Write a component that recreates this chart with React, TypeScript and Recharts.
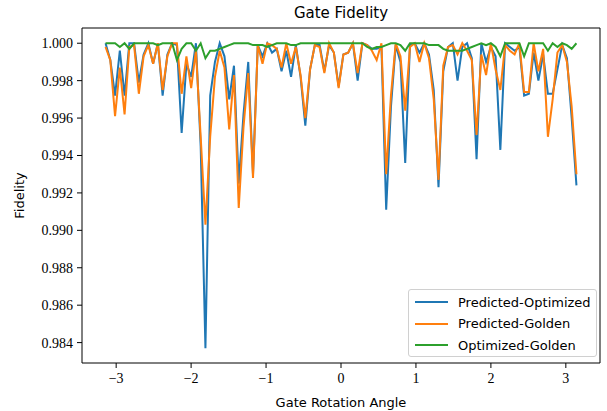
import { LineChart, Line, XAxis, YAxis, ReferenceArea, Label } from "recharts";

// sampling grid: 100 angles from -pi to pi
const N = 100;
const ANGLES = Array.from({ length: N }, (_, i) => -Math.PI + (2 * Math.PI * i) / (N - 1));

const PRED_OPT = [
  1.0, 0.9991, 0.9972, 0.9996, 0.9972, 1.0, 1.0, 0.9979, 0.9994, 1.0,
  0.9989, 1.0, 0.9972, 0.9994, 1.0, 0.9999, 0.9952, 0.9989, 0.9982, 1.0,
  0.9945, 0.9837, 0.9972, 0.999, 1.0, 0.9993, 0.997, 0.9988, 0.9925, 0.9962,
  0.999, 0.993, 0.9999, 0.9993, 1.0, 0.9995, 0.9997, 0.9985, 0.9996, 0.9982,
  0.9999, 0.9982, 0.9956, 0.9986, 0.9999, 0.9999, 0.9985, 0.9999, 0.9995, 0.9977,
  0.9994, 0.9995, 1.0, 0.998, 1.0, 0.9999, 0.9997, 0.9997, 0.9998, 0.9911,
  0.9966, 0.9999, 0.999, 0.9936, 0.9999, 1.0, 0.9995, 1.0, 0.9994, 0.9975,
  0.9923, 0.9985, 0.9998, 1.0, 0.998, 0.9998, 1.0, 0.9992, 0.9938, 1.0,
  0.999, 0.9998, 0.9993, 0.9943, 1.0, 0.9998, 0.9996, 0.9998, 0.9972, 0.9973,
  0.9995, 0.998, 0.9994, 0.9973, 0.9973, 0.9986, 0.9999, 0.9992, 0.996, 0.9924,
];

const PRED_GOLD = [
  0.9998, 0.9991, 0.9961, 0.9987, 0.9962, 0.9998, 0.9999, 0.9973, 0.9993, 0.9999,
  0.9989, 1.0, 0.9975, 0.9993, 1.0, 1.0, 0.9973, 0.9993, 0.9976, 0.9996,
  0.995, 0.9903, 0.995, 0.9982, 0.9996, 0.9987, 0.9954, 0.9983, 0.9912, 0.9955,
  0.9984, 0.9928, 0.9999, 0.9989, 1.0, 0.9999, 0.9997, 0.9987, 1.0, 0.9989,
  0.9998, 0.9983, 0.996, 0.9986, 0.9999, 0.9998, 0.9984, 1.0, 0.9995, 0.9976,
  0.9994, 0.9995, 1.0, 0.9984, 1.0, 0.9999, 0.9996, 0.9991, 1.0, 0.993,
  0.9972, 1.0, 0.9993, 0.9964, 0.9998, 1.0, 0.999, 1.0, 0.9992, 0.997,
  0.9927, 0.9988, 0.9998, 0.9999, 0.9994, 1.0, 0.9996, 0.9991, 0.9951, 0.9994,
  0.9983, 1.0, 0.9986, 0.9975, 0.9999, 0.9996, 0.9994, 1.0, 0.9974, 0.9974,
  1.0, 0.9985, 0.9997, 0.995, 0.997, 0.9995, 0.9999, 0.999, 0.9966, 0.993,
];

const OPT_GOLD = [
  1.0, 1.0, 1.0, 0.9998, 1.0, 0.9997, 1.0, 1.0, 1.0, 1.0,
  1.0, 0.9999, 1.0, 1.0, 1.0, 0.9991, 0.9997, 1.0, 1.0, 0.9996,
  1.0, 0.9992, 0.9996, 0.9996, 0.9997, 0.9998, 0.9999, 1.0, 1.0, 1.0,
  1.0, 0.9999, 0.9999, 0.9999, 0.9998, 0.9999, 1.0, 1.0, 1.0, 0.9999,
  0.9999, 1.0, 1.0, 1.0, 1.0, 1.0, 1.0, 1.0, 1.0, 1.0,
  1.0, 1.0, 1.0, 1.0, 1.0, 0.9998, 0.9997, 0.9998, 0.9998, 0.9999,
  1.0, 1.0, 0.9999, 0.9996, 1.0, 1.0, 1.0, 1.0, 0.9999, 0.9999,
  0.9999, 0.9997, 0.9996, 0.9996, 0.9996, 0.9996, 0.9997, 0.9998, 0.9999, 1.0,
  0.9999, 1.0, 0.9998, 0.9993, 1.0, 1.0, 1.0, 1.0, 0.9993, 1.0,
  1.0, 1.0, 1.0, 0.9996, 1.0, 0.9998, 1.0, 0.9999, 0.9997, 1.0,
];

const SERIES = [
  { key: "po", name: "Predicted-Optimized", color: "#1f77b4", values: PRED_OPT },
  { key: "pg", name: "Predicted-Golden", color: "#ff7f0e", values: PRED_GOLD },
  { key: "og", name: "Optimized-Golden", color: "#2ca02c", values: OPT_GOLD },
];

const X_TICKS = [-3, -2, -1, 0, 1, 2, 3];
const Y_TICKS = [0.984, 0.986, 0.988, 0.99, 0.992, 0.994, 0.996, 0.998, 1.0];
const X_DOMAIN: [number, number] = [-3.4558, 3.4558];
const Y_DOMAIN: [number, number] = [0.98291, 1.000814];

const data = ANGLES.map((x, i) => {
  const row: Record<string, number> = { x };
  SERIES.forEach((s) => (row[s.key] = s.values[i]));
  return row;
});

const serif = "'Liberation Serif', serif";
const sans = "'DejaVu Sans', sans-serif";

const XTick = ({ x, y, payload }: any) => {
  const v = payload.value as number;
  return (
    <text x={x} y={y + 13} textAnchor="middle" style={{ fontFamily: serif, fontSize: 14, fill: "#000" }}>
      {v < 0 ? "\u2212" + Math.abs(v) : String(v)}
    </text>
  );
};

const YTick = ({ x, y, payload }: any) => (
  <text x={x - 2} y={y + 5} textAnchor="end" style={{ fontFamily: serif, fontSize: 14, fill: "#000" }}>
    {(payload.value as number).toFixed(3)}
  </text>
);

export default function App() {
  return (
    <div style={{ position: "fixed", left: 0, top: 0, width: 607, height: 411, background: "#fff" }}>
      <div
        style={{
          position: "absolute",
          left: 82,
          width: 518,
          top: 4,
          textAlign: "center",
          fontFamily: sans,
          fontSize: 15,
          color: "#000",
        }}
      >
        Gate Fidelity
      </div>
      <LineChart width={607} height={411} data={data} margin={{ top: 28, right: 7, bottom: 0, left: 0 }}>
        <XAxis
          dataKey="x"
          type="number"
          domain={X_DOMAIN}
          ticks={X_TICKS}
          allowDataOverflow
          height={48}
          axisLine={false}
          tickLine={{ stroke: "#000" }}
          tickSize={5}
          tick={<XTick />}
        >
          <Label
            value="Gate Rotation Angle"
            position="insideBottom"
            offset={4}
            style={{ fill: "#000", fontFamily: sans, fontSize: 13 }}
          />
        </XAxis>
        <YAxis
          type="number"
          domain={Y_DOMAIN}
          ticks={Y_TICKS}
          allowDataOverflow
          width={82}
          axisLine={false}
          tickLine={{ stroke: "#000" }}
          tickSize={5}
          tick={<YTick />}
        >
          <Label
            value="Fidelity"
            angle={-90}
            position="insideLeft"
            offset={19}
            style={{ fill: "#000", fontFamily: sans, fontSize: 13, textAnchor: "middle" }}
          />
        </YAxis>
        {SERIES.map((s) => (
          <Line
            key={s.key}
            type="linear"
            dataKey={s.key}
            name={s.name}
            stroke={s.color}
            strokeWidth={2}
            dot={false}
            isAnimationActive={false}
          />
        ))}
        <ReferenceArea
          x1={X_DOMAIN[0]}
          x2={X_DOMAIN[1]}
          y1={Y_DOMAIN[0]}
          y2={Y_DOMAIN[1]}
          fill="none"
          fillOpacity={0}
          stroke="#000"
          strokeWidth={1}
          ifOverflow="visible"
        />
      </LineChart>
      <div
        style={{
          position: "absolute",
          left: 408,
          top: 289,
          width: 189,
          height: 68,
          boxSizing: "border-box",
          border: "1px solid #d0d0d0",
          borderRadius: 3,
          background: "rgba(255,255,255,0.85)",
          fontFamily: sans,
          fontSize: 13,
          color: "#000",
        }}
      >
        {SERIES.map((s, i) => (
          <div
            key={s.key}
            style={{ position: "absolute", left: 6, top: 3 + i * 21.5, height: 18, display: "flex", alignItems: "center" }}
          >
            <div style={{ width: 33, height: 2, background: s.color, marginRight: 10 }} />
            <span>{s.name}</span>
          </div>
        ))}
      </div>
    </div>
  );
}
